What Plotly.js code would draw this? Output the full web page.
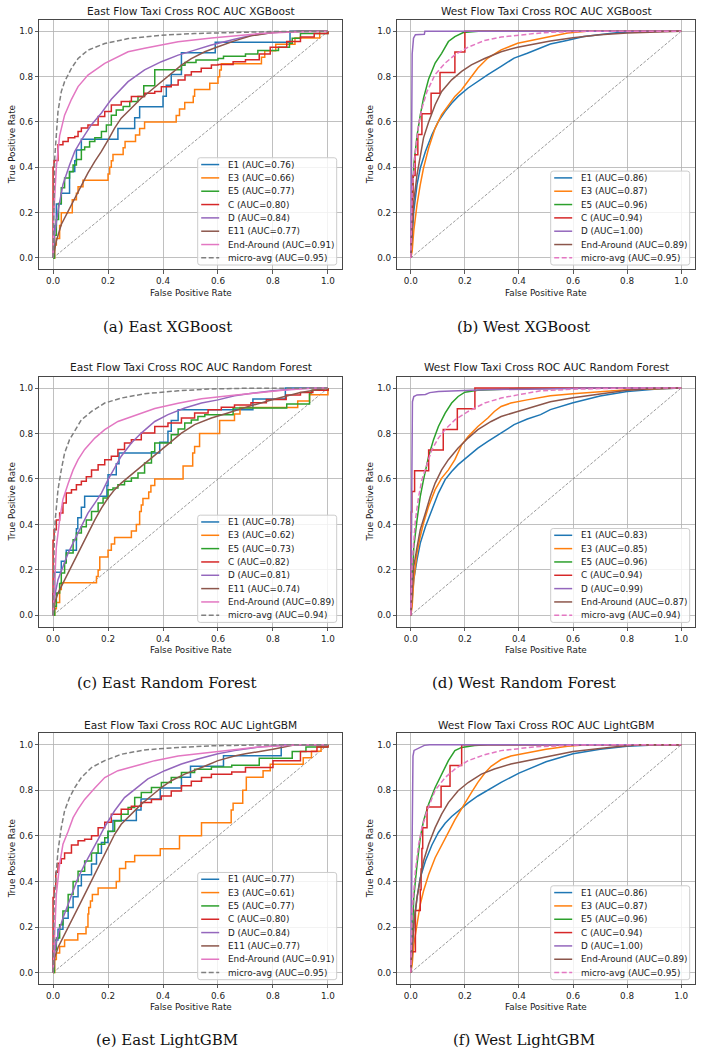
<!DOCTYPE html>
<html>
<head>
<meta charset="utf-8">
<script src="https://cdn.plot.ly/plotly-3.0.1.min.js"></script>
<style>
  html, body { margin: 0; padding: 0; background: #ffffff; }
  #chart { width: 706px; height: 1055px; }
</style>
</head>
<body>
<div id="chart"></div>
<script>
// ---------------- class names and AUC values ----------------
const eastClasses = ['E1', 'E3', 'E5', 'C', 'D', 'E11', 'End-Around', 'micro-avg'];
const westClasses = ['E1', 'E3', 'E5', 'C', 'D', 'End-Around', 'micro-avg'];

const eastXgbAuc = [0.76, 0.66, 0.77, 0.80, 0.84, 0.77, 0.91, 0.95];
const westXgbAuc = [0.86, 0.87, 0.96, 0.94, 1.00, 0.89, 0.95];
const eastRfAuc = [0.78, 0.62, 0.73, 0.82, 0.81, 0.74, 0.89, 0.94];
const westRfAuc = [0.83, 0.85, 0.96, 0.94, 0.99, 0.87, 0.94];
const eastLgbmAuc = [0.77, 0.61, 0.77, 0.80, 0.84, 0.77, 0.91, 0.95];
const westLgbmAuc = [0.86, 0.87, 0.96, 0.94, 1.00, 0.89, 0.95];

const diagX = [0, 1];
const diagY = [0, 1];

// ---------------- East, XGBoost ----------------
const eastXgbE1Fpr = [0, 0.005, 0.012, 0.03, 0.06, 0.079, 0.085, 0.103, 0.236, 0.297, 0.315, 0.40, 0.412, 0.43, 0.467, 0.59, 0.862, 1.0];
const eastXgbE1Tpr = [0, 0.143, 0.238, 0.286, 0.381, 0.429, 0.476, 0.524, 0.571, 0.619, 0.667, 0.714, 0.762, 0.81, 0.905, 0.952, 1.0, 1.0];
const eastXgbE3Fpr = [0, 0.006, 0.012, 0.024, 0.03, 0.07, 0.085, 0.091, 0.109, 0.2, 0.206, 0.212, 0.218, 0.255, 0.262, 0.3, 0.315, 0.333, 0.448, 0.46, 0.479, 0.51, 0.515, 0.57, 0.6, 0.606, 0.612, 0.758, 0.77, 0.81, 0.88, 0.97, 1.0];
const eastXgbE3Tpr = [0, 0.057, 0.086, 0.143, 0.2, 0.257, 0.286, 0.314, 0.343, 0.371, 0.4, 0.429, 0.457, 0.486, 0.514, 0.543, 0.571, 0.6, 0.629, 0.657, 0.686, 0.714, 0.743, 0.771, 0.8, 0.829, 0.857, 0.886, 0.914, 0.943, 0.971, 1.0, 1.0];
const eastXgbE5Fpr = [0, 0.005, 0.012, 0.02, 0.03, 0.042, 0.06, 0.073, 0.085, 0.103, 0.115, 0.133, 0.152, 0.176, 0.194, 0.212, 0.23, 0.255, 0.279, 0.309, 0.33, 0.37, 0.467, 0.48, 0.52, 0.6, 0.62, 0.7, 0.745, 0.82, 0.86, 0.87, 0.9, 1.0];
const eastXgbE5Tpr = [0, 0.1, 0.17, 0.24, 0.31, 0.353, 0.38, 0.41, 0.434, 0.478, 0.49, 0.514, 0.53, 0.558, 0.587, 0.63, 0.653, 0.668, 0.69, 0.712, 0.76, 0.83, 0.85, 0.862, 0.873, 0.88, 0.89, 0.9, 0.915, 0.93, 0.947, 0.97, 0.99, 1.0];
const eastXgbCFpr = [0, 0, 0.004, 0.018, 0.036, 0.055, 0.079, 0.091, 0.103, 0.127, 0.164, 0.188, 0.212, 0.248, 0.285, 0.333, 0.37, 0.394, 0.43, 0.455, 0.48, 0.503, 0.539, 0.576, 0.6, 0.655, 0.7, 0.75, 0.79, 0.85, 0.9, 0.95, 1.0];
const eastXgbCTpr = [0, 0.40, 0.43, 0.50, 0.514, 0.53, 0.536, 0.558, 0.573, 0.587, 0.624, 0.646, 0.675, 0.69, 0.712, 0.727, 0.734, 0.756, 0.763, 0.785, 0.807, 0.822, 0.837, 0.851, 0.854, 0.866, 0.875, 0.9, 0.93, 0.955, 0.975, 0.99, 1.0];
const eastXgbDFpr = [0, 0.005, 0.018, 0.036, 0.06, 0.079, 0.103, 0.139, 0.176, 0.212, 0.273, 0.333, 0.394, 0.455, 0.515, 0.576, 0.66, 0.72, 0.8, 0.9, 1.0];
const eastXgbDTpr = [0, 0.1, 0.207, 0.324, 0.41, 0.47, 0.52, 0.587, 0.64, 0.70, 0.778, 0.83, 0.866, 0.895, 0.917, 0.94, 0.965, 0.982, 0.995, 1.0, 1.0];
const eastXgbE11Fpr = [0, 0.005, 0.012, 0.03, 0.055, 0.079, 0.103, 0.127, 0.152, 0.176, 0.2, 0.224, 0.248, 0.285, 0.321, 0.358, 0.394, 0.43, 0.467, 0.503, 0.552, 0.6, 0.66, 0.72, 0.8, 0.9, 1.0];
const eastXgbE11Tpr = [0, 0.04, 0.075, 0.148, 0.207, 0.265, 0.324, 0.375, 0.426, 0.47, 0.52, 0.573, 0.617, 0.66, 0.705, 0.741, 0.778, 0.815, 0.851, 0.88, 0.91, 0.932, 0.958, 0.98, 0.995, 1.0, 1.0];
const eastXgbEndFpr = [0, 0.003, 0.012, 0.024, 0.042, 0.067, 0.091, 0.127, 0.188, 0.273, 0.333, 0.455, 0.576, 0.66, 0.75, 0.85, 1.0];
const eastXgbEndTpr = [0, 0.2, 0.40, 0.54, 0.63, 0.70, 0.756, 0.807, 0.859, 0.91, 0.925, 0.954, 0.971, 0.98, 0.99, 0.996, 1.0];
const eastXgbMicroFpr = [0, 0.002, 0.006, 0.018, 0.03, 0.042, 0.067, 0.091, 0.127, 0.188, 0.273, 0.394, 0.515, 0.66, 0.8, 1.0];
const eastXgbMicroTpr = [0, 0.25, 0.44, 0.646, 0.734, 0.778, 0.837, 0.88, 0.917, 0.946, 0.968, 0.983, 0.99, 0.995, 0.999, 1.0];

// ---------------- West, XGBoost ----------------
const westXgbE1Fpr = [0, 0.002, 0.005, 0.011, 0.023, 0.035, 0.054, 0.078, 0.102, 0.127, 0.151, 0.175, 0.212, 0.248, 0.285, 0.334, 0.382, 0.431, 0.48, 0.516, 0.577, 0.64, 0.76, 0.85, 1.0];
const westXgbE1Tpr = [0, 0.04, 0.09, 0.207, 0.324, 0.397, 0.47, 0.544, 0.603, 0.647, 0.683, 0.713, 0.75, 0.78, 0.809, 0.845, 0.882, 0.903, 0.925, 0.944, 0.96, 0.977, 0.994, 1.0, 1.0];
const westXgbE3Fpr = [0, 0.005, 0.011, 0.023, 0.035, 0.047, 0.066, 0.09, 0.114, 0.139, 0.163, 0.188, 0.212, 0.248, 0.285, 0.334, 0.395, 0.455, 0.516, 0.58, 0.65, 1.0];
const westXgbE3Tpr = [0, 0.03, 0.12, 0.236, 0.324, 0.397, 0.485, 0.573, 0.632, 0.676, 0.713, 0.742, 0.78, 0.838, 0.882, 0.918, 0.947, 0.962, 0.977, 0.993, 1.0, 1.0];
const westXgbE5Fpr = [0, 0.004, 0.011, 0.023, 0.035, 0.047, 0.066, 0.09, 0.114, 0.139, 0.163, 0.194, 0.25, 1.0];
const westXgbE5Tpr = [0, 0.2, 0.41, 0.54, 0.63, 0.705, 0.79, 0.86, 0.903, 0.955, 0.977, 0.995, 1.0, 1.0];
const westXgbCFpr = [0, 0, 0.003, 0.006, 0.008, 0.016, 0.026, 0.041, 0.075, 0.108, 0.163, 0.2, 1.0];
const westXgbCTpr = [0, 0.091, 0.182, 0.273, 0.364, 0.455, 0.545, 0.636, 0.727, 0.818, 0.909, 1.0, 1.0];
const westXgbDFpr = [0, 0.003, 0.005, 0.01, 0.017, 0.05, 0.052, 1.0];
const westXgbDTpr = [0, 0.5, 0.9, 0.97, 0.985, 0.987, 1.0, 1.0];
const westXgbEndFpr = [0, 0.005, 0.011, 0.023, 0.035, 0.047, 0.066, 0.09, 0.114, 0.151, 0.188, 0.224, 0.273, 0.334, 0.395, 0.455, 0.516, 0.6, 0.7, 0.8, 0.9, 1.0];
const westXgbEndTpr = [0, 0.148, 0.25, 0.368, 0.456, 0.53, 0.6, 0.676, 0.735, 0.786, 0.823, 0.852, 0.88, 0.91, 0.93, 0.945, 0.957, 0.972, 0.985, 0.993, 0.998, 1.0];
const westXgbMicroFpr = [0, 0.002, 0.005, 0.017, 0.029, 0.041, 0.06, 0.09, 0.127, 0.163, 0.212, 0.273, 0.334, 0.455, 0.52, 0.65, 1.0];
const westXgbMicroTpr = [0, 0.15, 0.29, 0.47, 0.59, 0.66, 0.735, 0.81, 0.86, 0.896, 0.93, 0.96, 0.975, 0.99, 0.996, 1.0, 1.0];

// ---------------- East, Random Forest ----------------
const eastRfE1Fpr = [0, 0, 0.006, 0.03, 0.048, 0.085, 0.09, 0.103, 0.115, 0.196, 0.2, 0.23, 0.24, 0.388, 0.418, 0.43, 0.455, 0.727, 0.845, 1.0];
const eastRfE1Tpr = [0, 0.095, 0.19, 0.238, 0.286, 0.381, 0.429, 0.476, 0.524, 0.571, 0.619, 0.667, 0.714, 0.762, 0.81, 0.857, 0.905, 0.952, 1.0, 1.0];
const eastRfE3Fpr = [0, 0.006, 0.012, 0.024, 0.03, 0.158, 0.164, 0.17, 0.2, 0.212, 0.224, 0.285, 0.303, 0.315, 0.321, 0.327, 0.348, 0.356, 0.37, 0.473, 0.508, 0.515, 0.533, 0.606, 0.66, 0.68, 0.89, 0.933, 1.0];
const eastRfE3Tpr = [0, 0.029, 0.057, 0.114, 0.143, 0.171, 0.2, 0.257, 0.286, 0.314, 0.343, 0.371, 0.4, 0.457, 0.486, 0.514, 0.543, 0.571, 0.6, 0.657, 0.714, 0.743, 0.8, 0.857, 0.886, 0.914, 0.943, 0.971, 1.0];
const eastRfE5Fpr = [0, 0.006, 0.012, 0.024, 0.03, 0.042, 0.048, 0.073, 0.085, 0.103, 0.121, 0.14, 0.164, 0.182, 0.2, 0.218, 0.236, 0.26, 0.285, 0.309, 0.333, 0.358, 0.37, 0.43, 0.455, 0.479, 0.503, 0.527, 0.552, 0.655, 0.85, 0.933, 0.94, 1.0];
const eastRfE5Tpr = [0, 0.04, 0.098, 0.14, 0.186, 0.23, 0.274, 0.333, 0.362, 0.39, 0.42, 0.457, 0.494, 0.516, 0.553, 0.56, 0.575, 0.59, 0.604, 0.626, 0.67, 0.72, 0.758, 0.795, 0.82, 0.846, 0.86, 0.875, 0.883, 0.912, 0.93, 0.978, 0.99, 1.0];
const eastRfCFpr = [0, 0, 0.004, 0.012, 0.024, 0.036, 0.048, 0.067, 0.085, 0.103, 0.121, 0.14, 0.164, 0.188, 0.212, 0.236, 0.26, 0.285, 0.321, 0.37, 0.418, 0.467, 0.515, 0.564, 0.612, 0.66, 0.72, 0.776, 0.848, 0.9, 0.945, 1.0];
const eastRfCTpr = [0, 0.33, 0.377, 0.42, 0.45, 0.494, 0.538, 0.553, 0.575, 0.59, 0.61, 0.64, 0.663, 0.685, 0.7, 0.73, 0.758, 0.773, 0.802, 0.831, 0.846, 0.868, 0.89, 0.905, 0.916, 0.926, 0.935, 0.95, 0.97, 0.98, 0.99, 1.0];
const eastRfDFpr = [0, 0.006, 0.018, 0.036, 0.055, 0.079, 0.103, 0.127, 0.152, 0.176, 0.2, 0.224, 0.248, 0.285, 0.321, 0.37, 0.418, 0.479, 0.54, 0.6, 0.66, 0.73, 0.8, 0.9, 1.0];
const eastRfDTpr = [0, 0.084, 0.157, 0.215, 0.274, 0.333, 0.39, 0.45, 0.494, 0.538, 0.597, 0.648, 0.7, 0.758, 0.802, 0.853, 0.883, 0.912, 0.934, 0.948, 0.966, 0.978, 0.988, 0.998, 1.0];
const eastRfE11Fpr = [0, 0.006, 0.018, 0.036, 0.055, 0.079, 0.103, 0.127, 0.152, 0.176, 0.2, 0.224, 0.248, 0.285, 0.321, 0.358, 0.394, 0.43, 0.467, 0.515, 0.576, 0.636, 0.7, 0.8, 0.9, 1.0];
const eastRfE11Tpr = [0, 0.054, 0.098, 0.142, 0.186, 0.245, 0.303, 0.362, 0.42, 0.472, 0.516, 0.553, 0.582, 0.619, 0.655, 0.692, 0.729, 0.765, 0.802, 0.839, 0.868, 0.89, 0.915, 0.95, 0.98, 1.0];
const eastRfEndFpr = [0, 0.006, 0.012, 0.024, 0.036, 0.055, 0.073, 0.091, 0.115, 0.152, 0.188, 0.236, 0.297, 0.37, 0.455, 0.54, 0.648, 0.75, 0.836, 0.95, 1.0];
const eastRfEndTpr = [0, 0.157, 0.30, 0.42, 0.51, 0.58, 0.64, 0.685, 0.73, 0.78, 0.817, 0.853, 0.88, 0.91, 0.933, 0.953, 0.967, 0.98, 0.99, 1.0, 1.0];
const eastRfMicroFpr = [0, 0.002, 0.004, 0.008, 0.018, 0.03, 0.042, 0.06, 0.079, 0.103, 0.14, 0.188, 0.248, 0.333, 0.455, 0.576, 0.7, 0.85, 1.0];
const eastRfMicroTpr = [0, 0.2, 0.3, 0.42, 0.553, 0.64, 0.714, 0.773, 0.81, 0.86, 0.897, 0.934, 0.956, 0.975, 0.988, 0.996, 0.999, 1.0, 1.0];

// ---------------- West, Random Forest ----------------
const westRfE1Fpr = [0, 0.005, 0.011, 0.023, 0.035, 0.054, 0.078, 0.102, 0.127, 0.151, 0.175, 0.212, 0.248, 0.285, 0.334, 0.382, 0.431, 0.48, 0.516, 0.6, 0.7, 0.8, 0.9, 1.0];
const westRfE1Tpr = [0, 0.07, 0.157, 0.245, 0.318, 0.39, 0.465, 0.538, 0.597, 0.633, 0.663, 0.70, 0.736, 0.765, 0.802, 0.839, 0.864, 0.883, 0.905, 0.935, 0.965, 0.985, 0.995, 1.0];
const westRfE3Fpr = [0, 0.005, 0.011, 0.023, 0.035, 0.047, 0.066, 0.09, 0.114, 0.139, 0.163, 0.188, 0.212, 0.248, 0.285, 0.309, 0.334, 0.37, 0.43, 0.516, 0.6, 0.7, 0.8, 1.0];
const westRfE3Tpr = [0, 0.04, 0.157, 0.274, 0.347, 0.406, 0.48, 0.553, 0.604, 0.64, 0.685, 0.75, 0.787, 0.831, 0.868, 0.897, 0.919, 0.934, 0.948, 0.966, 0.975, 0.985, 0.993, 1.0];
const westRfE5Fpr = [0, 0.005, 0.011, 0.023, 0.035, 0.047, 0.066, 0.084, 0.102, 0.127, 0.151, 0.175, 0.2, 0.248, 0.285, 0.4, 1.0];
const westRfE5Tpr = [0, 0.157, 0.30, 0.42, 0.523, 0.597, 0.70, 0.773, 0.831, 0.89, 0.934, 0.963, 0.982, 0.99, 0.992, 0.998, 1.0];
const westRfCFpr = [0, 0, 0.001, 0.002, 0.004, 0.014, 0.066, 0.12, 0.172, 0.237, 1.0];
const westRfCTpr = [0, 0.182, 0.364, 0.455, 0.545, 0.636, 0.727, 0.818, 0.909, 1.0, 1.0];
const westRfDFpr = [0, 0.003, 0.006, 0.011, 0.023, 0.054, 0.07, 0.102, 0.151, 0.273, 0.5, 0.65, 1.0];
const westRfDTpr = [0, 0.5, 0.94, 0.963, 0.97, 0.972, 0.98, 0.985, 0.988, 0.993, 0.996, 1.0, 1.0];
const westRfEndFpr = [0, 0.005, 0.011, 0.023, 0.035, 0.054, 0.072, 0.09, 0.114, 0.139, 0.175, 0.212, 0.248, 0.297, 0.334, 0.395, 0.455, 0.516, 0.6, 0.7, 0.8, 0.9, 1.0];
const westRfEndTpr = [0, 0.128, 0.215, 0.30, 0.377, 0.45, 0.523, 0.582, 0.64, 0.685, 0.736, 0.78, 0.817, 0.853, 0.875, 0.897, 0.92, 0.94, 0.957, 0.975, 0.99, 0.998, 1.0];
const westRfMicroFpr = [0, 0.002, 0.005, 0.017, 0.029, 0.041, 0.06, 0.078, 0.102, 0.127, 0.163, 0.212, 0.273, 0.334, 0.395, 0.48, 0.6, 0.8, 1.0];
const westRfMicroTpr = [0, 0.12, 0.23, 0.42, 0.523, 0.597, 0.67, 0.729, 0.78, 0.817, 0.86, 0.897, 0.934, 0.956, 0.97, 0.988, 0.995, 1.0, 1.0];

// ---------------- East, LightGBM ----------------
const eastLgbmE1Fpr = [0, 0, 0.006, 0.018, 0.036, 0.055, 0.073, 0.091, 0.103, 0.14, 0.158, 0.176, 0.2, 0.218, 0.303, 0.32, 0.39, 0.467, 0.5, 0.62, 0.83, 1.0];
const eastLgbmE1Tpr = [0, 0.095, 0.143, 0.19, 0.238, 0.286, 0.333, 0.381, 0.429, 0.476, 0.524, 0.571, 0.619, 0.667, 0.714, 0.762, 0.81, 0.857, 0.905, 0.952, 1.0, 1.0];
const eastLgbmE3Fpr = [0, 0.006, 0.012, 0.024, 0.042, 0.09, 0.12, 0.127, 0.13, 0.136, 0.143, 0.164, 0.23, 0.242, 0.264, 0.297, 0.39, 0.46, 0.54, 0.648, 0.655, 0.69, 0.703, 0.764, 0.79, 0.91, 0.94, 0.975, 1.0];
const eastLgbmE3Tpr = [0, 0.057, 0.086, 0.114, 0.143, 0.171, 0.2, 0.257, 0.286, 0.314, 0.343, 0.371, 0.4, 0.457, 0.486, 0.514, 0.543, 0.6, 0.657, 0.714, 0.743, 0.8, 0.857, 0.886, 0.914, 0.943, 0.971, 1.0, 1.0];
const eastLgbmE5Fpr = [0, 0.005, 0.012, 0.024, 0.036, 0.055, 0.073, 0.091, 0.115, 0.14, 0.164, 0.188, 0.2, 0.224, 0.248, 0.273, 0.297, 0.321, 0.358, 0.394, 0.43, 0.467, 0.515, 0.576, 0.65, 0.75, 0.87, 0.92, 1.0];
const eastLgbmE5Tpr = [0, 0.1, 0.152, 0.21, 0.27, 0.343, 0.40, 0.445, 0.49, 0.525, 0.563, 0.592, 0.62, 0.665, 0.695, 0.724, 0.768, 0.79, 0.812, 0.834, 0.856, 0.878, 0.892, 0.902, 0.91, 0.94, 0.97, 0.99, 1.0];
const eastLgbmCFpr = [0, 0, 0.004, 0.01, 0.018, 0.03, 0.042, 0.067, 0.091, 0.115, 0.14, 0.164, 0.188, 0.212, 0.248, 0.285, 0.321, 0.358, 0.394, 0.43, 0.467, 0.503, 0.54, 0.576, 0.65, 0.7, 0.8, 0.9, 0.96, 1.0];
const eastLgbmCTpr = [0, 0.33, 0.372, 0.44, 0.48, 0.5, 0.525, 0.56, 0.578, 0.585, 0.6, 0.636, 0.66, 0.695, 0.717, 0.73, 0.746, 0.76, 0.775, 0.797, 0.82, 0.84, 0.856, 0.87, 0.88, 0.9, 0.93, 0.97, 0.99, 1.0];
const eastLgbmDFpr = [0, 0.006, 0.018, 0.036, 0.055, 0.073, 0.091, 0.115, 0.14, 0.164, 0.188, 0.224, 0.26, 0.297, 0.345, 0.406, 0.467, 0.527, 0.6, 0.66, 0.75, 0.85, 1.0];
const eastLgbmDTpr = [0, 0.094, 0.167, 0.24, 0.30, 0.358, 0.416, 0.475, 0.534, 0.585, 0.64, 0.71, 0.768, 0.805, 0.85, 0.886, 0.915, 0.937, 0.96, 0.974, 0.99, 1.0, 1.0];
const eastLgbmE11Fpr = [0, 0.006, 0.018, 0.036, 0.055, 0.079, 0.103, 0.127, 0.152, 0.176, 0.2, 0.224, 0.248, 0.285, 0.321, 0.358, 0.394, 0.43, 0.479, 0.54, 0.6, 0.66, 0.7, 0.8, 0.88, 1.0];
const eastLgbmE11Tpr = [0, 0.065, 0.11, 0.152, 0.196, 0.255, 0.314, 0.372, 0.431, 0.49, 0.548, 0.607, 0.651, 0.695, 0.739, 0.776, 0.812, 0.842, 0.871, 0.90, 0.93, 0.95, 0.96, 0.98, 1.0, 1.0];
const eastLgbmEndFpr = [0, 0.006, 0.012, 0.024, 0.036, 0.055, 0.073, 0.091, 0.115, 0.152, 0.188, 0.236, 0.297, 0.37, 0.455, 0.54, 0.648, 0.75, 0.9, 1.0];
const eastLgbmEndTpr = [0, 0.152, 0.343, 0.475, 0.563, 0.62, 0.68, 0.717, 0.76, 0.81, 0.856, 0.886, 0.907, 0.93, 0.95, 0.962, 0.977, 0.99, 1.0, 1.0];
const eastLgbmMicroFpr = [0, 0.002, 0.004, 0.01, 0.018, 0.03, 0.042, 0.06, 0.079, 0.103, 0.14, 0.188, 0.248, 0.333, 0.455, 0.576, 0.75, 1.0];
const eastLgbmMicroTpr = [0, 0.2, 0.3, 0.416, 0.534, 0.636, 0.71, 0.768, 0.812, 0.856, 0.9, 0.93, 0.958, 0.977, 0.988, 0.995, 0.999, 1.0];

// ---------------- West, LightGBM ----------------
const westLgbmE1Fpr = [0, 0.005, 0.011, 0.023, 0.035, 0.054, 0.078, 0.102, 0.127, 0.151, 0.175, 0.212, 0.248, 0.285, 0.334, 0.4, 0.45, 0.5, 0.6, 0.7, 0.8, 0.9, 1.0];
const westLgbmE1Tpr = [0, 0.094, 0.21, 0.33, 0.416, 0.49, 0.56, 0.615, 0.655, 0.685, 0.71, 0.745, 0.775, 0.80, 0.835, 0.875, 0.9, 0.925, 0.96, 0.98, 0.993, 0.999, 1.0];
const westLgbmE3Fpr = [0, 0.005, 0.011, 0.023, 0.035, 0.047, 0.066, 0.09, 0.114, 0.139, 0.163, 0.188, 0.2, 0.224, 0.248, 0.273, 0.297, 0.334, 0.37, 0.43, 0.5, 0.58, 0.65, 1.0];
const westLgbmE3Tpr = [0, 0.035, 0.123, 0.21, 0.30, 0.358, 0.43, 0.504, 0.56, 0.615, 0.67, 0.72, 0.745, 0.79, 0.835, 0.875, 0.905, 0.935, 0.95, 0.965, 0.98, 0.993, 1.0, 1.0];
const westLgbmE5Fpr = [0, 0.004, 0.011, 0.023, 0.035, 0.047, 0.066, 0.09, 0.114, 0.139, 0.163, 0.188, 0.236, 0.285, 1.0];
const westLgbmE5Tpr = [0, 0.15, 0.33, 0.475, 0.592, 0.665, 0.74, 0.812, 0.87, 0.93, 0.974, 0.988, 0.996, 1.0, 1.0];
const westLgbmCFpr = [0, 0, 0.017, 0.035, 0.038, 0.041, 0.044, 0.06, 0.112, 0.145, 0.188, 1.0];
const westLgbmCTpr = [0, 0.091, 0.273, 0.364, 0.455, 0.545, 0.636, 0.727, 0.818, 0.909, 1.0, 1.0];
const westLgbmDFpr = [0, 0.004, 0.008, 0.012, 0.03, 0.05, 0.07, 1.0];
const westLgbmDTpr = [0, 0.6, 0.95, 0.975, 0.985, 0.997, 1.0, 1.0];
const westLgbmEndFpr = [0, 0.005, 0.011, 0.023, 0.035, 0.047, 0.066, 0.09, 0.114, 0.139, 0.175, 0.212, 0.261, 0.309, 0.37, 0.431, 0.504, 0.6, 0.75, 0.85, 1.0];
const westLgbmEndTpr = [0, 0.123, 0.21, 0.33, 0.416, 0.49, 0.563, 0.636, 0.695, 0.746, 0.798, 0.834, 0.871, 0.893, 0.915, 0.93, 0.947, 0.97, 0.99, 1.0, 1.0];
const westLgbmMicroFpr = [0, 0.002, 0.005, 0.017, 0.029, 0.041, 0.06, 0.09, 0.127, 0.163, 0.212, 0.273, 0.334, 0.455, 0.6, 0.8, 1.0];
const westLgbmMicroTpr = [0, 0.15, 0.27, 0.446, 0.563, 0.636, 0.71, 0.80, 0.856, 0.893, 0.93, 0.956, 0.974, 0.99, 0.998, 1.0, 1.0];

// ---------------- styles ----------------
const eastColors = ['#1f77b4', '#ff7f0e', '#2ca02c', '#d62728', '#9467bd', '#8c564b', '#e377c2', '#7f7f7f'];
const westColors = ['#1f77b4', '#ff7f0e', '#2ca02c', '#d62728', '#9467bd', '#8c564b', '#e377c2'];
// curves drawn as staircases (few positive samples)
const eastSteps = [true, true, true, true, false, false, false, false];
const westSteps = [false, false, false, true, false, false, false];

const panels = [
  { title: 'East Flow Taxi Cross ROC AUC XGBoost', caption: '(a) East XGBoost',
    classes: eastClasses, auc: eastXgbAuc, colors: eastColors, steps: eastSteps,
    fpr: [eastXgbE1Fpr, eastXgbE3Fpr, eastXgbE5Fpr, eastXgbCFpr, eastXgbDFpr, eastXgbE11Fpr, eastXgbEndFpr, eastXgbMicroFpr],
    tpr: [eastXgbE1Tpr, eastXgbE3Tpr, eastXgbE5Tpr, eastXgbCTpr, eastXgbDTpr, eastXgbE11Tpr, eastXgbEndTpr, eastXgbMicroTpr] },
  { title: 'West Flow Taxi Cross ROC AUC XGBoost', caption: '(b) West XGBoost',
    classes: westClasses, auc: westXgbAuc, colors: westColors, steps: westSteps,
    fpr: [westXgbE1Fpr, westXgbE3Fpr, westXgbE5Fpr, westXgbCFpr, westXgbDFpr, westXgbEndFpr, westXgbMicroFpr],
    tpr: [westXgbE1Tpr, westXgbE3Tpr, westXgbE5Tpr, westXgbCTpr, westXgbDTpr, westXgbEndTpr, westXgbMicroTpr] },
  { title: 'East Flow Taxi Cross ROC AUC Random Forest', caption: '(c) East Random Forest',
    classes: eastClasses, auc: eastRfAuc, colors: eastColors, steps: eastSteps,
    fpr: [eastRfE1Fpr, eastRfE3Fpr, eastRfE5Fpr, eastRfCFpr, eastRfDFpr, eastRfE11Fpr, eastRfEndFpr, eastRfMicroFpr],
    tpr: [eastRfE1Tpr, eastRfE3Tpr, eastRfE5Tpr, eastRfCTpr, eastRfDTpr, eastRfE11Tpr, eastRfEndTpr, eastRfMicroTpr] },
  { title: 'West Flow Taxi Cross ROC AUC Random Forest', caption: '(d) West Random Forest',
    classes: westClasses, auc: westRfAuc, colors: westColors, steps: westSteps,
    fpr: [westRfE1Fpr, westRfE3Fpr, westRfE5Fpr, westRfCFpr, westRfDFpr, westRfEndFpr, westRfMicroFpr],
    tpr: [westRfE1Tpr, westRfE3Tpr, westRfE5Tpr, westRfCTpr, westRfDTpr, westRfEndTpr, westRfMicroTpr] },
  { title: 'East Flow Taxi Cross ROC AUC LightGBM', caption: '(e) East LightGBM',
    classes: eastClasses, auc: eastLgbmAuc, colors: eastColors, steps: eastSteps,
    fpr: [eastLgbmE1Fpr, eastLgbmE3Fpr, eastLgbmE5Fpr, eastLgbmCFpr, eastLgbmDFpr, eastLgbmE11Fpr, eastLgbmEndFpr, eastLgbmMicroFpr],
    tpr: [eastLgbmE1Tpr, eastLgbmE3Tpr, eastLgbmE5Tpr, eastLgbmCTpr, eastLgbmDTpr, eastLgbmE11Tpr, eastLgbmEndTpr, eastLgbmMicroTpr] },
  { title: 'West Flow Taxi Cross ROC AUC LightGBM', caption: '(f) West LightGBM',
    classes: westClasses, auc: westLgbmAuc, colors: westColors, steps: westSteps,
    fpr: [westLgbmE1Fpr, westLgbmE3Fpr, westLgbmE5Fpr, westLgbmCFpr, westLgbmDFpr, westLgbmEndFpr, westLgbmMicroFpr],
    tpr: [westLgbmE1Tpr, westLgbmE3Tpr, westLgbmE5Tpr, westLgbmCTpr, westLgbmDTpr, westLgbmEndTpr, westLgbmMicroTpr] }
];

// ---------------- page geometry (pixels) ----------------
const W = 706, H = 1055;
const colLeft = [39.3, 397.3], colRight = [341.7, 694.7];
const rowTop = [20, 376.7, 733.3], rowBottom = [269.3, 626.7, 984];
const titleY = [11.5, 367.3, 724.8];
const captionX = [167, 523.5], captionY = [326.7, 682.7, 1040];
const ylabelX = [11.7, 369.7];

const SANS = 'DejaVu Sans, Verdana, sans-serif';
const SERIF = 'DejaVu Serif, Liberation Serif, serif';
const LINE_W = 1.5;
const px = v => v / W;
const py = v => 1 - v / H;

function roundedRect(l, t, w, h, r) {
  const R = l + w, B = t + h;
  return 'M ' + px(l + r) + ',' + py(t) +
    ' L ' + px(R - r) + ',' + py(t) +
    ' Q ' + px(R) + ',' + py(t) + ' ' + px(R) + ',' + py(t + r) +
    ' L ' + px(R) + ',' + py(B - r) +
    ' Q ' + px(R) + ',' + py(B) + ' ' + px(R - r) + ',' + py(B) +
    ' L ' + px(l + r) + ',' + py(B) +
    ' Q ' + px(l) + ',' + py(B) + ' ' + px(l) + ',' + py(B - r) +
    ' L ' + px(l) + ',' + py(t + r) +
    ' Q ' + px(l) + ',' + py(t) + ' ' + px(l + r) + ',' + py(t) + ' Z';
}

const traces = [], shapes = [], annotations = [];
const layout = {
  width: W, height: H,
  margin: { l: 0, r: 0, t: 0, b: 0 },
  paper_bgcolor: '#ffffff', plot_bgcolor: '#ffffff',
  showlegend: false, hovermode: false,
  font: { family: SANS, size: 8.8, color: '#222222' }
};

function axisStyle() {
  return {
    range: [-0.05, 1.05], tick0: 0, dtick: 0.2, tickformat: '.1f',
    ticks: 'outside', ticklen: 3.5, tickwidth: 0.8, tickcolor: '#333333',
    showgrid: true, gridcolor: '#b0b0b0', gridwidth: 0.8, zeroline: false,
    showline: true, mirror: true, linecolor: '#333333', linewidth: 0.9,
    tickfont: { family: SANS, size: 8.8, color: '#222222' }, fixedrange: true
  };
}

panels.forEach((p, i) => {
  const col = i % 2, row = Math.floor(i / 2);
  const n = i + 1;
  const xa = n === 1 ? 'x' : 'x' + n, ya = n === 1 ? 'y' : 'y' + n;
  const xk = n === 1 ? 'xaxis' : 'xaxis' + n, yk = n === 1 ? 'yaxis' : 'yaxis' + n;
  layout[xk] = Object.assign(axisStyle(), { domain: [px(colLeft[col]), px(colRight[col])], anchor: ya });
  layout[yk] = Object.assign(axisStyle(), { domain: [py(rowBottom[row]), py(rowTop[row])], anchor: xa });

  // chance diagonal
  traces.push({ x: diagX, y: diagY, xaxis: xa, yaxis: ya, type: 'scatter', mode: 'lines',
    line: { color: '#808080', width: 0.8, dash: '3px,1.6px' }, hoverinfo: 'skip' });

  const last = p.classes.length - 1;
  p.classes.forEach((name, k) => {
    traces.push({
      x: p.fpr[k], y: p.tpr[k], xaxis: xa, yaxis: ya, type: 'scatter', mode: 'lines',
      name: name,
      line: { color: p.colors[k], width: LINE_W, shape: p.steps[k] ? 'hv' : 'linear',
              dash: k === last ? '5px,2.5px' : 'solid' },
      hoverinfo: 'skip'
    });
  });

  const cx = (colLeft[col] + colRight[col]) / 2;
  const cy = (rowTop[row] + rowBottom[row]) / 2;
  annotations.push({ xref: 'paper', yref: 'paper', x: px(cx), y: py(titleY[row]), text: p.title,
    showarrow: false, xanchor: 'center', yanchor: 'middle', font: { family: SANS, size: 10.6, color: '#1a1a1a' } });
  annotations.push({ xref: 'paper', yref: 'paper', x: px(cx), y: py(rowBottom[row] + 23.2), text: 'False Positive Rate',
    showarrow: false, xanchor: 'center', yanchor: 'middle', font: { family: SANS, size: 8.8, color: '#1a1a1a' } });
  annotations.push({ xref: 'paper', yref: 'paper', x: px(ylabelX[col]), y: py(cy), text: 'True Positive Rate',
    showarrow: false, xanchor: 'center', yanchor: 'middle', textangle: -90, font: { family: SANS, size: 8.8, color: '#1a1a1a' } });
  annotations.push({ xref: 'paper', yref: 'paper', x: px(captionX[col]), y: py(captionY[row]), text: p.caption,
    showarrow: false, xanchor: 'center', yanchor: 'middle', font: { family: SERIF, size: 15, color: '#111111' } });

  // legend box in the lower right corner
  const rowH = 13.33;
  const boxW = 139, boxH = p.classes.length * rowH + 0.6;
  const boxR = colRight[col] - 5, boxB = rowBottom[row] - 4.3;
  const boxL = boxR - boxW, boxT = boxB - boxH;
  shapes.push({ type: 'path', xref: 'paper', yref: 'paper', path: roundedRect(boxL, boxT, boxW, boxH, 2.5),
    fillcolor: 'rgba(255,255,255,0.8)', line: { color: '#cccccc', width: 1 }, layer: 'above' });
  p.classes.forEach((name, k) => {
    const yy = boxT + 6.8 + k * rowH;
    shapes.push({ type: 'line', xref: 'paper', yref: 'paper', x0: px(boxL + 3.5), x1: px(boxL + 21.5), y0: py(yy), y1: py(yy),
      line: { color: p.colors[k], width: LINE_W, dash: k === last ? '5px,2.5px' : 'solid' }, layer: 'above' });
    annotations.push({ xref: 'paper', yref: 'paper', x: px(boxL + 28), y: py(yy), xanchor: 'left', yanchor: 'middle',
      text: name + ' (AUC=' + p.auc[k].toFixed(2) + ')', showarrow: false,
      font: { family: SANS, size: 8.8, color: '#1a1a1a' } });
  });
});

layout.shapes = shapes;
layout.annotations = annotations;

Plotly.newPlot('chart', traces, layout, { staticPlot: true, displayModeBar: false });
</script>
</body>
</html>
